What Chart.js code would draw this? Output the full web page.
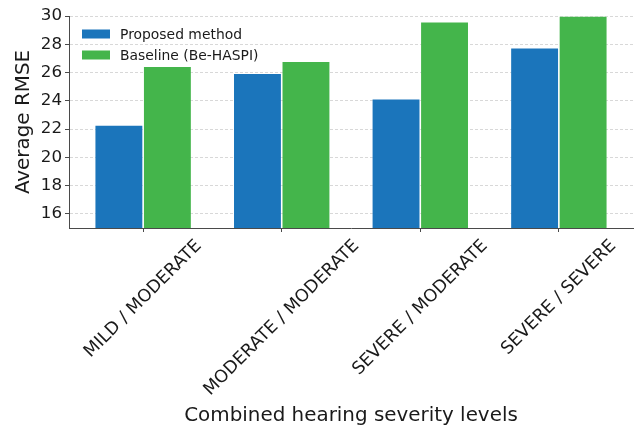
<!DOCTYPE html>
<html>
<head>
<meta charset="utf-8">
<script src="https://cdn.jsdelivr.net/npm/chart.js@4.4.1/dist/chart.umd.min.js"></script>
<style>
  html, body { margin: 0; padding: 0; background: #fff; }
  #wrap { width: 640px; height: 425px; }
</style>
</head>
<body>
<div id="wrap"><canvas id="rmseChart"></canvas></div>
<script>
// values
const categories = ['MILD / MODERATE', 'MODERATE / MODERATE', 'SEVERE / MODERATE', 'SEVERE / SEVERE'];
const proposed = [22.3, 25.95, 24.15, 27.75];
const baseline = [26.45, 26.8, 29.6, 30.0];
const yTicks = [16, 18, 20, 22, 24, 26, 28, 30];

const FONT = "'DejaVu Sans', sans-serif";
const TEXT = '#1a1a1a';
const AXIS = '#4a4a4a';

// legend drawn inside the plot, top left
const innerLegend = {
    id: 'innerLegend',
    afterDraw(chart) {
        const ctx = chart.ctx;
        const area = chart.chartArea;
        ctx.save();
        ctx.font = '13.9px ' + FONT;
        ctx.textBaseline = 'middle';
        ctx.textAlign = 'left';
        chart.data.datasets.forEach(function (ds, i) {
            const y = area.top + 18 + i * 21;
            ctx.fillStyle = ds.backgroundColor;
            ctx.fillRect(area.left + 13, y - 4.5, 28, 9);
            ctx.fillStyle = TEXT;
            ctx.fillText(ds.label, area.left + 51, y + 1);
        });
        ctx.restore();
    }
};

// rotated category labels, centred on the tick like matplotlib does
const rotatedLabels = {
    id: 'rotatedLabels',
    afterDraw(chart) {
        const ctx = chart.ctx;
        const xs = chart.scales.x;
        const size = 17.5;
        const c = Math.SQRT1_2;
        ctx.save();
        ctx.font = size + 'px ' + FONT;
        ctx.fillStyle = TEXT;
        ctx.textAlign = 'center';
        ctx.textBaseline = 'middle';
        categories.forEach(function (lab, i) {
            const x = xs.getPixelForValue(i);
            const w = ctx.measureText(lab).width;
            const h = size * 1.17;
            const boxH = (w + h) * c;
            const top = chart.chartArea.bottom + 8;
            ctx.save();
            ctx.translate(x, top + boxH / 2);
            ctx.rotate(-Math.PI / 4);
            ctx.fillText(lab, 0, 0);
            ctx.restore();
        });
        ctx.restore();
    }
};

const data = {
    datasets: [{
        label: 'Proposed method',
        data: categories.map((c, i) => ({ x: i, y: proposed[i] })),
        backgroundColor: '#1b75bb',
        borderColor: 'rgba(255,255,255,0.3)',
        borderWidth: 0.8
    }, {
        label: 'Baseline (Be-HASPI)',
        data: categories.map((c, i) => ({ x: i, y: baseline[i] })),
        backgroundColor: '#44b54b',
        borderColor: 'rgba(255,255,255,0.3)',
        borderWidth: 0.8
    }]
};

const config = {
    type: 'bar',
    data: data,
    plugins: [innerLegend, rotatedLabels],
    options: {
        responsive: false,
        animation: false,
        categoryPercentage: 0.7,
        barPercentage: 1.0,
        layout: { padding: { top: 16, right: 7, left: 0, bottom: 0 } },
        plugins: {
            legend: { display: false },
            tooltip: { enabled: false }
        },
        scales: {
            x: {
                type: 'linear',
                offset: false,
                min: -0.535,
                max: 3.535,
                afterBuildTicks(scale) {
                    scale.ticks = categories.map((c, i) => ({ value: i }));
                },
                afterFit(scale) { scale.height = 197; },
                ticks: { display: false },
                grid: {
                    offset: false,
                    drawOnChartArea: false,
                    drawTicks: true,
                    tickLength: 4,
                    tickColor: AXIS,
                    tickWidth: 1
                },
                border: { color: AXIS, width: 1 },
                title: {
                    display: true,
                    text: 'Combined hearing severity levels',
                    color: TEXT,
                    font: { family: FONT, size: 19.9 },
                    padding: { top: 0, bottom: -2.5 }
                }
            },
            y: {
                min: 15,
                max: 30,
                z: 1,
                afterBuildTicks(scale) {
                    scale.ticks = yTicks.map(v => ({ value: v }));
                },
                afterFit(scale) { scale.width = 69; },
                ticks: {
                    color: TEXT,
                    padding: 3,
                    font: { family: FONT, size: 16.7 }
                },
                grid: {
                    color: 'rgba(190,190,190,0.75)',
                    lineWidth: 0.8,
                    tickLength: 4,
                    tickColor: AXIS,
                    tickWidth: 1,
                    tickBorderDash: []
                },
                border: { color: AXIS, width: 1, dash: [3, 2] },
                title: {
                    display: true,
                    text: 'Average RMSE',
                    color: TEXT,
                    font: { family: FONT, size: 19.9 },
                    padding: { top: 12.2, bottom: 12.2 }
                }
            }
        }
    }
};

const canvas = document.getElementById('rmseChart');
canvas.width = 640;
canvas.height = 425;
new Chart(canvas.getContext('2d'), config);
</script>
</body>
</html>
